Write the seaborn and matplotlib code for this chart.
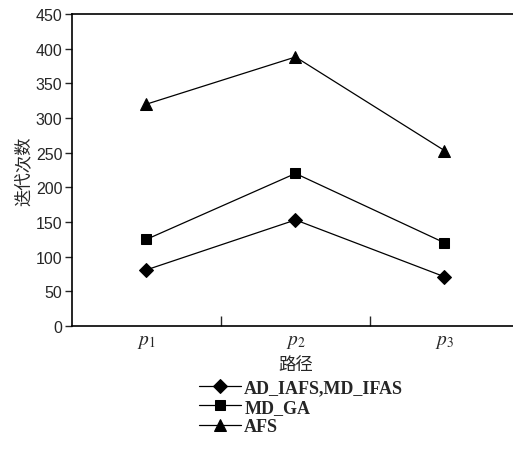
import matplotlib
matplotlib.use("Agg")
import matplotlib.pyplot as plt
import seaborn as sns
import pandas as pd

categories = ["$p_1$", "$p_2$", "$p_3$"]
series_names = ["AD_IAFS,MD_IFAS", "MD_GA", "AFS"]
ad_iafs = [81, 153, 71]
md_ga = [125, 220, 120]
afs = [320, 388, 253]
y_ticks = [0, 50, 100, 150, 200, 250, 300, 350, 400, 450]

sns.set_style("white")
plt.rcParams["font.family"] = ["Liberation Sans", "DejaVu Sans"]
plt.rcParams["mathtext.fontset"] = "stix"

rows = []
for name, vals in zip(series_names, [ad_iafs, md_ga, afs]):
    for c, v in zip(categories, vals):
        rows.append({"path": c, "iters": v, "series": name})
df = pd.DataFrame(rows)

fig = plt.figure(figsize=(5.13, 4.52), dpi=100)
ax = fig.add_axes([72 / 513, 1 - 327 / 452, 447 / 513, 312 / 452])

sns.lineplot(data=df, x="path", y="iters", hue="series", style="series",
             hue_order=series_names, style_order=series_names,
             palette=["black"] * 3, markers={"AD_IAFS,MD_IFAS": "D", "MD_GA": "s", "AFS": "^"},
             dashes=False, linewidth=0.9, markersize=7, markeredgecolor="black",
             ax=ax, sort=False)

size_map = {"D": 7.0, "s": 7.3, "^": 8.8}


def fix_sizes(lines):
    for ln in lines:
        m = ln.get_marker()
        if m in size_map:
            ln.set_markersize(size_map[m])


fix_sizes(ax.lines)

ax.set_xlim(-0.5, 2.5)
ax.set_ylim(0, 450)
ax.set_yticks(y_ticks)
ax.set_yticklabels([str(t) for t in y_ticks], fontsize=11.5)
ax.set_xticks([0, 1, 2])
ax.set_xticklabels(categories, fontsize=14)
ax.set_xticks([0.5, 1.5], minor=True)
ax.tick_params(axis="x", which="major", length=0, pad=5)
ax.tick_params(axis="x", which="minor", direction="in", length=7, width=1, bottom=True)
ax.tick_params(axis="y", which="major", direction="out", length=5, width=1, left=True, pad=2)

for s in ["left", "bottom", "top"]:
    ax.spines[s].set_linewidth(1.2)
    ax.spines[s].set_color("black")
ax.spines["right"].set_visible(False)

cjk = ["Noto Sans CJK SC", "DejaVu Sans"]
ax.set_ylabel("迭代次数", fontsize=12.5, family=cjk, labelpad=2)
ax.set_xlabel("路径", fontsize=12.5, family=cjk, labelpad=4)

handles, labels = ax.get_legend_handles_labels()
if ax.get_legend() is not None:
    ax.get_legend().remove()
fix_sizes(handles)
leg = fig.legend(handles, labels, loc="upper left", bbox_to_anchor=(190 / 513, 1 - 371 / 452),
                 frameon=False, prop={"family": "Liberation Serif", "size": 13, "weight": "bold"},
                 handlelength=2.3, handletextpad=0.2, labelspacing=0.15, borderpad=0)

fig.savefig("out.png", dpi=100)
